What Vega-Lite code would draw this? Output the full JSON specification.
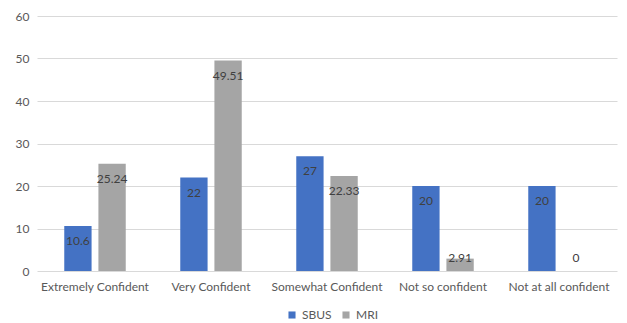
{
  "$schema": "https://vega.github.io/schema/vega-lite/v6.json",
  "width": 580,
  "height": 255,
  "autosize": {"type": "none"},
  "padding": {"left": 37, "top": 16, "right": 10, "bottom": 52},
  "background": "white",
  "config": {"view": {"stroke": null}, "font": "Lato"},
  "data": {"values": [
    {"category": "Extremely Confident", "series": "SBUS", "value": 10.6},
    {"category": "Extremely Confident", "series": "MRI", "value": 25.24},
    {"category": "Very Confident", "series": "SBUS", "value": 22},
    {"category": "Very Confident", "series": "MRI", "value": 49.51},
    {"category": "Somewhat Confident", "series": "SBUS", "value": 27},
    {"category": "Somewhat Confident", "series": "MRI", "value": 22.33},
    {"category": "Not so confident", "series": "SBUS", "value": 20},
    {"category": "Not so confident", "series": "MRI", "value": 2.91},
    {"category": "Not at all confident", "series": "SBUS", "value": 20},
    {"category": "Not at all confident", "series": "MRI", "value": 0}
  ]},
  "encoding": {
    "x": {"field": "category", "type": "nominal", "sort": null,
      "scale": {"paddingInner": 0.47, "paddingOuter": 0.235},
      "axis": {"title": null, "labelAngle": 0, "labelFontSize": 12, "labelColor": "#595959", "labelFont": "Lato", "domain": false, "ticks": false, "labelPadding": 10}},
    "xOffset": {"field": "series", "type": "nominal", "sort": ["SBUS", "MRI"], "scale": {"paddingInner": 0.2}},
    "y": {"field": "value", "type": "quantitative",
      "scale": {"domain": [0, 60]},
      "axis": {"title": null, "values": [0, 10, 20, 30, 40, 50, 60], "labelOverlap": false, "labelFontSize": 12, "labelColor": "#595959", "domain": false, "ticks": false, "labelPadding": 8, "gridColor": "#d9d9d9", "gridWidth": 1}}
  },
  "layer": [
    {"mark": {"type": "bar"},
      "encoding": {"color": {"field": "series", "type": "nominal", "sort": ["SBUS", "MRI"],
        "scale": {"domain": ["SBUS", "MRI"], "range": ["#4472C4", "#A5A5A5"]},
        "legend": {"title": null, "orient": "none", "legendX": 249, "legendY": 293, "direction": "horizontal", "symbolType": "square", "symbolSize": 50, "labelFontSize": 12, "labelColor": "#595959", "columnPadding": 8, "labelOffset": 4}}}},
    {"transform": [{"filter": "datum.value >= 5"}],
      "mark": {"type": "text", "baseline": "middle", "dy": 15, "fontSize": 12, "color": "#404040"},
      "encoding": {"text": {"field": "value", "type": "nominal"}}},
    {"transform": [{"filter": "datum.value < 5"}],
      "mark": {"type": "text", "baseline": "middle", "dy": -13, "fontSize": 12, "color": "#404040"},
      "encoding": {"y": {"datum": 0}, "text": {"field": "value", "type": "nominal"}}}
  ]
}
